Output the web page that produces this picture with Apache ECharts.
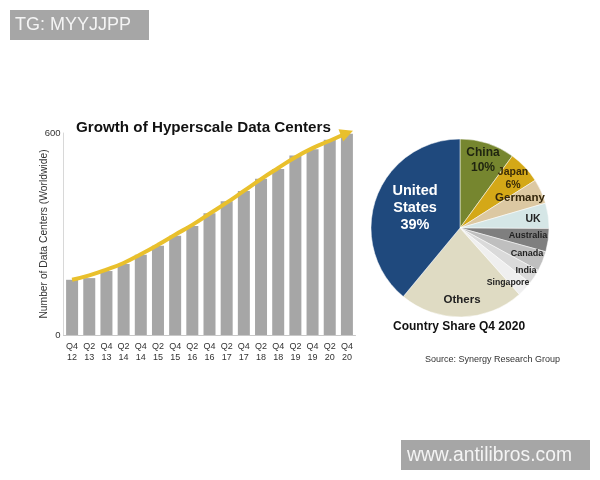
<!DOCTYPE html>
<html>
<head>
<meta charset="utf-8">
<style>
html, body { margin: 0; padding: 0; background: #fff; }
#chart { width: 600px; height: 480px; }
</style>
<script src="https://cdn.jsdelivr.net/npm/echarts@6/dist/echarts.min.js"></script>
</head>
<body>
<div id="chart"></div>
<script>
const quarters = ['Q4\n12','Q2\n13','Q4\n13','Q2\n14','Q4\n14','Q2\n15','Q4\n15','Q2\n16','Q4\n16','Q2\n17','Q4\n17','Q2\n18','Q4\n18','Q2\n19','Q4\n19','Q2\n20','Q4\n20']
const centers = [164,169,190,211,238,265,295,324,362,397,428,464,493,533,552,580,598]
const trend = [164,177,194,214,240,268,298,327,360,393,428,463,496,528,555,577,600]

const countries = ['China','Japan','Germany','UK','Australia','Canada','India','Singapore','Others','United States']
const shares = [10,6,4.5,4.6,4.2,3.6,2.7,2.8,22.6,39]
const shareLabels = ['China\n10%','Japan\n6%','Germany','UK','Australia','Canada','India','Singapore','Others','United\nStates\n39%']
const shareColors = ['#76862f','#d4a817','#dcc8a2','#d5e6e6','#7f7f7f','#bfbfbf','#dadada','#efefef','#dfdbc3','#1f497d']
const labelSpots = [[483,160],[513,179],[520,198],[533,219],[528,236],[527,254],[526,271],[508,283],[462,300],[415,208]]
const labelSizes = [12,10.5,11.5,10.5,9,9,9,8.7,11.5,14.5]
const labelInks = ['#1f2410','#3a2c08','#33260c','#222','#222','#222','#222','#222','#222','#fff']

const chart = echarts.init(document.getElementById('chart'))
const font = '"Liberation Sans", Arial, sans-serif'

const arrowData = trend.map((v, i) => i === trend.length - 1
    ? { value: v, symbol: 'triangle', symbolSize: 13, symbolRotate: -69 }
    : { value: v, symbol: 'none' })

chart.setOption({
    animation: false,
    backgroundColor: '#fff',
    textStyle: { fontFamily: font },
    title: [
        { text: 'Growth of Hyperscale Data Centers', left: 71, top: 115, padding: 5, textStyle: { fontSize: 15.2, fontWeight: 'bold', color: '#111', fontFamily: font } },
        { text: 'Country Share Q4 2020', left: 388, top: 316, textStyle: { fontSize: 12, fontWeight: 'bold', color: '#111', fontFamily: font } },
        { text: 'Source: Synergy Research Group', left: 420, top: 350, textStyle: { fontSize: 9, fontWeight: 'normal', color: '#333', fontFamily: font } }
    ],
    grid: { left: 63.5, right: 244.5, top: 133, bottom: 145 },
    xAxis: {
        type: 'category',
        data: quarters,
        axisLine: { lineStyle: { color: '#c8c8c8', width: 1 } },
        axisTick: { show: false },
        axisLabel: { interval: 0, fontSize: 9, color: '#333', margin: 6, lineHeight: 11, fontFamily: font }
    },
    yAxis: {
        type: 'value',
        min: 0,
        max: 600,
        interval: 600,
        name: 'Number of Data Centers (Worldwide)',
        nameLocation: 'middle',
        nameGap: 14,
        nameMoveOverlap: false,
        nameTextStyle: { fontSize: 10.3, color: '#333', fontFamily: font },
        axisLine: { show: true, lineStyle: { color: '#d8d8d8', width: 1 } },
        axisTick: { show: false },
        splitLine: { show: false },
        axisLabel: { fontSize: 9.5, color: '#333', margin: 3, fontFamily: font }
    },
    series: [
        {
            name: 'Data Centers',
            type: 'bar',
            data: centers,
            barWidth: 12,
            itemStyle: { color: '#a6a6a6' }
        },
        {
            name: 'Trend',
            type: 'line',
            data: arrowData,
            smooth: true,
            z: 5,
            lineStyle: { color: '#e9c02c', width: 4 },
            itemStyle: { color: '#e9c02c' }
        },
        {
            name: 'Country Share',
            type: 'pie',
            center: [460, 228],
            radius: [0, 89],
            startAngle: 90,
            clockwise: true,
            data: countries.map((c, i) => ({
                name: c,
                value: shares[i],
                itemStyle: { color: shareColors[i] },
                label: { color: labelInks[i], fontSize: labelSizes[i], lineHeight: labelSizes[i] + 2.5, fontWeight: 'bold' }
            })),
            label: {
                show: true,
                position: 'inside',
                fontFamily: font,
                align: 'center',
                verticalAlign: 'middle',
                formatter: p => shareLabels[p.dataIndex]
            },
            labelLine: { show: false },
            labelLayout: p => ({ x: labelSpots[p.dataIndex][0], y: labelSpots[p.dataIndex][1], align: 'center', verticalAlign: 'middle' }),
            itemStyle: { borderColor: '#fff', borderWidth: 0.5 },
            silent: true
        }
    ],
    graphic: [
        { type: 'rect', shape: { x: 10, y: 10, width: 139, height: 30 }, style: { fill: '#a6a6a6' }, z: 20 },
        { type: 'text', x: 15, y: 16, z: 21, style: { text: 'TG: MYYJJPP', fill: '#f4f4f4', fontSize: 18, fontFamily: font } },
        { type: 'rect', shape: { x: 401, y: 440, width: 189, height: 30 }, style: { fill: '#a6a6a6' }, z: 20 },
        { type: 'text', x: 407, y: 446, z: 21, style: { text: 'www.antilibros.com', fill: '#f4f4f4', fontSize: 19.3, fontFamily: font } }
    ]
})
</script>
</body>
</html>
